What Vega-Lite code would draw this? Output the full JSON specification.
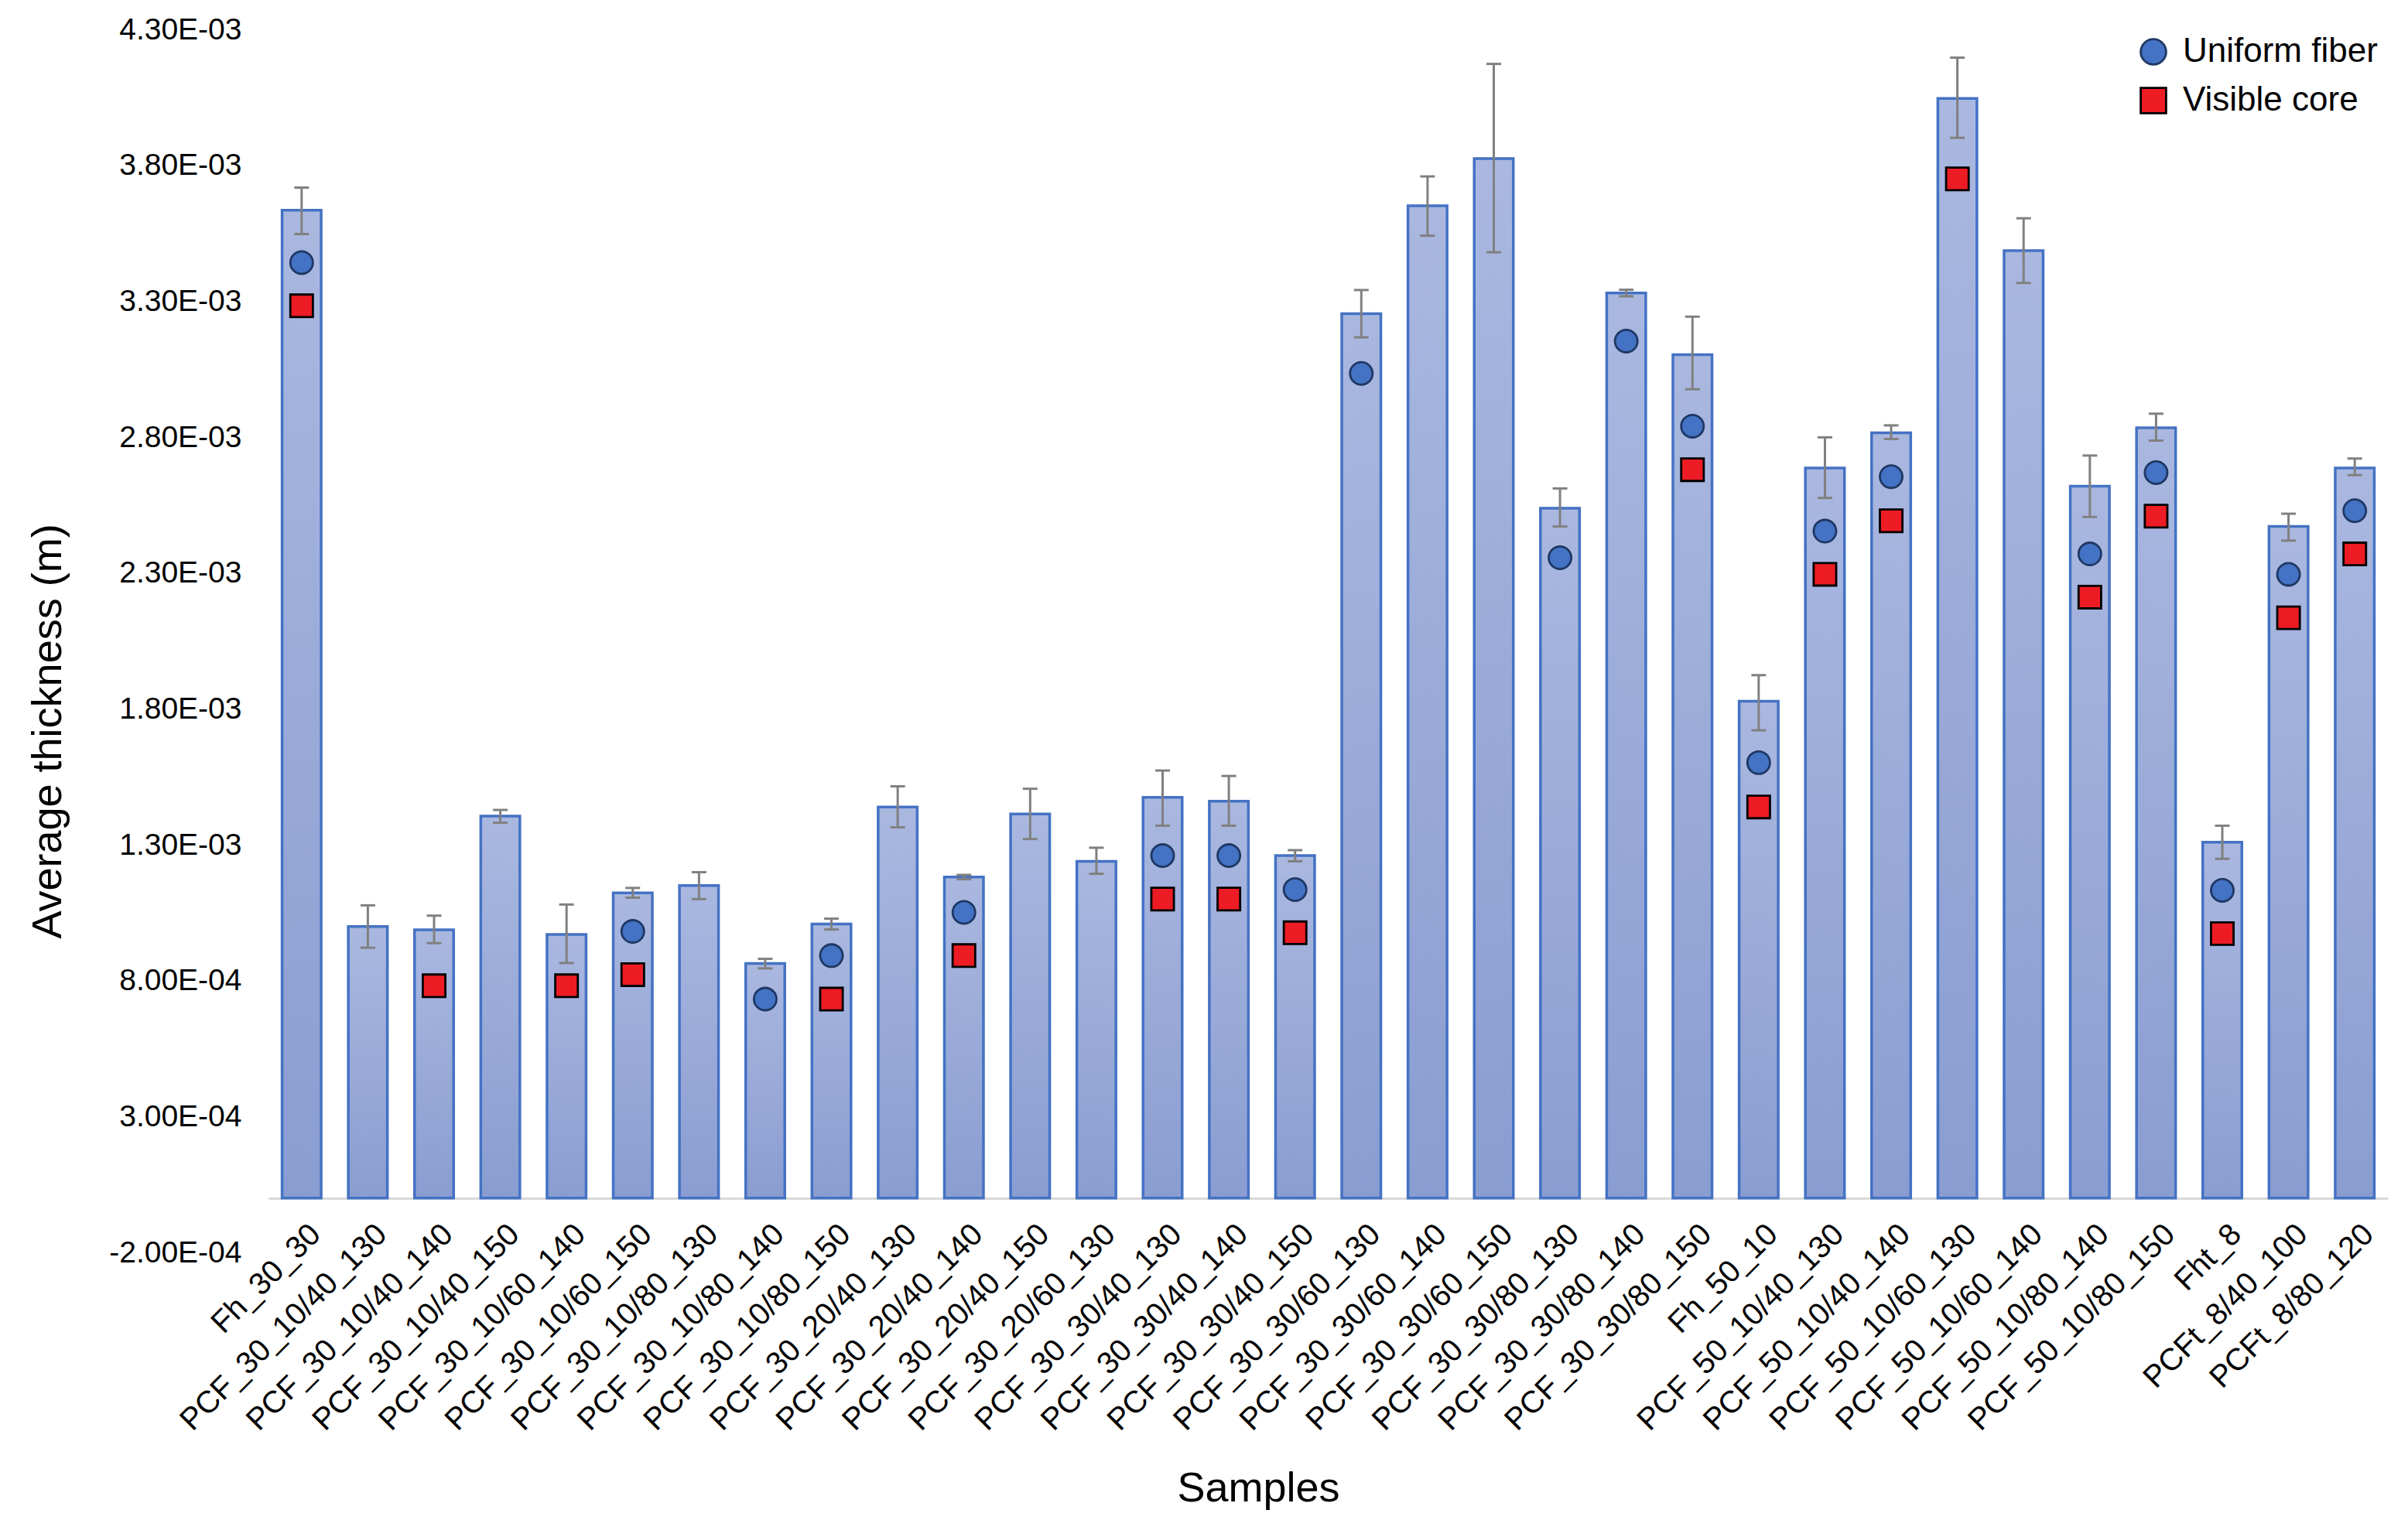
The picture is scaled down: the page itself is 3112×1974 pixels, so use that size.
{
  "$schema": "https://vega.github.io/schema/vega-lite/v6.json",
  "width": 2739,
  "height": 1581,
  "autosize": {"type": "none"},
  "padding": {"left": 347, "top": 38, "right": 26, "bottom": 355},
  "background": "white",
  "config": {"view": {"stroke": null}, "font": "Liberation Sans"},
  "datasets": {
    "bars": [
      {"sample": "Fh_30_30", "mean": 0.003635, "lo": 0.003547, "hi": 0.003718},
      {"sample": "PCF_30_10/40_130", "mean": 0.000999, "lo": 0.000921, "hi": 0.001077},
      {"sample": "PCF_30_10/40_140", "mean": 0.000987, "lo": 0.000938, "hi": 0.001039},
      {"sample": "PCF_30_10/40_150", "mean": 0.001405, "lo": 0.001381, "hi": 0.001428},
      {"sample": "PCF_30_10/60_140", "mean": 0.000970, "lo": 0.000865, "hi": 0.001080},
      {"sample": "PCF_30_10/60_150", "mean": 0.001123, "lo": 0.001105, "hi": 0.001141},
      {"sample": "PCF_30_10/80_130", "mean": 0.001150, "lo": 0.001100, "hi": 0.001199},
      {"sample": "PCF_30_10/80_140", "mean": 0.000863, "lo": 0.000845, "hi": 0.000880},
      {"sample": "PCF_30_10/80_150", "mean": 0.001008, "lo": 0.000988, "hi": 0.001028},
      {"sample": "PCF_30_20/40_130", "mean": 0.001439, "lo": 0.001364, "hi": 0.001515},
      {"sample": "PCF_30_20/40_140", "mean": 0.001181, "lo": 0.001173, "hi": 0.001189},
      {"sample": "PCF_30_20/40_150", "mean": 0.001413, "lo": 0.001321, "hi": 0.001506},
      {"sample": "PCF_30_20/60_130", "mean": 0.001239, "lo": 0.001193, "hi": 0.001289},
      {"sample": "PCF_30_30/40_130", "mean": 0.001474, "lo": 0.001370, "hi": 0.001573},
      {"sample": "PCF_30_30/40_140", "mean": 0.001460, "lo": 0.001370, "hi": 0.001553},
      {"sample": "PCF_30_30/40_150", "mean": 0.001260, "lo": 0.001239, "hi": 0.001280},
      {"sample": "PCF_30_30/60_130", "mean": 0.003254, "lo": 0.003167, "hi": 0.003341},
      {"sample": "PCF_30_30/60_140", "mean": 0.003651, "lo": 0.003541, "hi": 0.003759},
      {"sample": "PCF_30_30/60_150", "mean": 0.003825, "lo": 0.003480, "hi": 0.004173},
      {"sample": "PCF_30_30/80_130", "mean": 0.002538, "lo": 0.002471, "hi": 0.002611},
      {"sample": "PCF_30_30/80_140", "mean": 0.003330, "lo": 0.003318, "hi": 0.003342},
      {"sample": "PCF_30_30/80_150", "mean": 0.003103, "lo": 0.002976, "hi": 0.003243},
      {"sample": "Fh_50_10", "mean": 0.001828, "lo": 0.001721, "hi": 0.001924},
      {"sample": "PCF_50_10/40_130", "mean": 0.002686, "lo": 0.002576, "hi": 0.002799},
      {"sample": "PCF_50_10/40_140", "mean": 0.002816, "lo": 0.002793, "hi": 0.002843},
      {"sample": "PCF_50_10/60_130", "mean": 0.004046, "lo": 0.003901, "hi": 0.004196},
      {"sample": "PCF_50_10/60_140", "mean": 0.003486, "lo": 0.003367, "hi": 0.003605},
      {"sample": "PCF_50_10/80_140", "mean": 0.002619, "lo": 0.002506, "hi": 0.002732},
      {"sample": "PCF_50_10/80_150", "mean": 0.002834, "lo": 0.002787, "hi": 0.002886},
      {"sample": "Fht_8", "mean": 0.001309, "lo": 0.001248, "hi": 0.001370},
      {"sample": "PCFt_8/40_100", "mean": 0.002471, "lo": 0.002419, "hi": 0.002518},
      {"sample": "PCFt_8/80_120", "mean": 0.002686, "lo": 0.002660, "hi": 0.002721}
    ],
    "markers": [
      {"sample": "Fh_30_30", "series": "Uniform fiber", "value": 0.003442},
      {"sample": "PCF_30_10/60_150", "series": "Uniform fiber", "value": 0.000981},
      {"sample": "PCF_30_10/80_140", "series": "Uniform fiber", "value": 0.000732},
      {"sample": "PCF_30_10/80_150", "series": "Uniform fiber", "value": 0.000892},
      {"sample": "PCF_30_20/40_140", "series": "Uniform fiber", "value": 0.001051},
      {"sample": "PCF_30_30/40_130", "series": "Uniform fiber", "value": 0.001260},
      {"sample": "PCF_30_30/40_140", "series": "Uniform fiber", "value": 0.001260},
      {"sample": "PCF_30_30/40_150", "series": "Uniform fiber", "value": 0.001135},
      {"sample": "PCF_30_30/60_130", "series": "Uniform fiber", "value": 0.003034},
      {"sample": "PCF_30_30/80_130", "series": "Uniform fiber", "value": 0.002356},
      {"sample": "PCF_30_30/80_140", "series": "Uniform fiber", "value": 0.003153},
      {"sample": "PCF_30_30/80_150", "series": "Uniform fiber", "value": 0.002840},
      {"sample": "Fh_50_10", "series": "Uniform fiber", "value": 0.001602},
      {"sample": "PCF_50_10/40_130", "series": "Uniform fiber", "value": 0.002454},
      {"sample": "PCF_50_10/40_140", "series": "Uniform fiber", "value": 0.002654},
      {"sample": "PCF_50_10/80_140", "series": "Uniform fiber", "value": 0.002370},
      {"sample": "PCF_50_10/80_150", "series": "Uniform fiber", "value": 0.002669},
      {"sample": "Fht_8", "series": "Uniform fiber", "value": 0.001132},
      {"sample": "PCFt_8/40_100", "series": "Uniform fiber", "value": 0.002295},
      {"sample": "PCFt_8/80_120", "series": "Uniform fiber", "value": 0.002529},
      {"sample": "Fh_30_30", "series": "Visible core", "value": 0.003283},
      {"sample": "PCF_30_10/40_140", "series": "Visible core", "value": 0.000781},
      {"sample": "PCF_30_10/60_140", "series": "Visible core", "value": 0.000781},
      {"sample": "PCF_30_10/60_150", "series": "Visible core", "value": 0.000822},
      {"sample": "PCF_30_10/80_150", "series": "Visible core", "value": 0.000732},
      {"sample": "PCF_30_20/40_140", "series": "Visible core", "value": 0.000892},
      {"sample": "PCF_30_30/40_130", "series": "Visible core", "value": 0.001100},
      {"sample": "PCF_30_30/40_140", "series": "Visible core", "value": 0.001100},
      {"sample": "PCF_30_30/40_150", "series": "Visible core", "value": 0.000976},
      {"sample": "PCF_30_30/80_150", "series": "Visible core", "value": 0.002680},
      {"sample": "Fh_50_10", "series": "Visible core", "value": 0.001439},
      {"sample": "PCF_50_10/40_130", "series": "Visible core", "value": 0.002295},
      {"sample": "PCF_50_10/40_140", "series": "Visible core", "value": 0.002492},
      {"sample": "PCF_50_10/60_130", "series": "Visible core", "value": 0.003750},
      {"sample": "PCF_50_10/80_140", "series": "Visible core", "value": 0.002211},
      {"sample": "PCF_50_10/80_150", "series": "Visible core", "value": 0.002509},
      {"sample": "Fht_8", "series": "Visible core", "value": 0.000973},
      {"sample": "PCFt_8/40_100", "series": "Visible core", "value": 0.002135},
      {"sample": "PCFt_8/80_120", "series": "Visible core", "value": 0.002370}
    ]
  },
  "layer": [
    {
      "data": {"name": "bars"},
      "mark": {
        "type": "bar",
        "fill": {"gradient": "linear", "x1": 0, "y1": 0, "x2": 0, "y2": 1,
          "stops": [{"offset": 0, "color": "#AAB8E0"}, {"offset": 1, "color": "#8A9DD1"}]},
        "stroke": "#4472C4",
        "strokeWidth": 3.5
      },
      "encoding": {
        "x": {
          "field": "sample", "type": "nominal", "title": "Samples",
          "scale": {"domain": ["Fh_30_30", "PCF_30_10/40_130", "PCF_30_10/40_140", "PCF_30_10/40_150", "PCF_30_10/60_140", "PCF_30_10/60_150", "PCF_30_10/80_130", "PCF_30_10/80_140", "PCF_30_10/80_150", "PCF_30_20/40_130", "PCF_30_20/40_140", "PCF_30_20/40_150", "PCF_30_20/60_130", "PCF_30_30/40_130", "PCF_30_30/40_140", "PCF_30_30/40_150", "PCF_30_30/60_130", "PCF_30_30/60_140", "PCF_30_30/60_150", "PCF_30_30/80_130", "PCF_30_30/80_140", "PCF_30_30/80_150", "Fh_50_10", "PCF_50_10/40_130", "PCF_50_10/40_140", "PCF_50_10/60_130", "PCF_50_10/60_140", "PCF_50_10/80_140", "PCF_50_10/80_150", "Fht_8", "PCFt_8/40_100", "PCFt_8/80_120"], "paddingInner": 0.41, "paddingOuter": 0.205},
          "axis": {
            "offset": -70, "labelAngle": -45, "labelAlign": "right", "labelBaseline": "top",
            "labelPadding": 26, "labelOffset": 4, "labelFontSize": 40, "labelColor": "#000000", "labelLimit": 1000,
            "labelOverlap": false, "ticks": false, "domainColor": "#D9D9D9", "domainWidth": 3,
            "titleFontSize": 54, "titleFontWeight": "normal", "titleColor": "#000000",
            "titleX": 1279, "titleY": 391, "titleBaseline": "alphabetic", "titleAlign": "center"
          }
        },
        "y": {
          "field": "mean", "type": "quantitative", "title": "Average thickness (m)",
          "scale": {"domain": [-0.0002, 0.0043], "nice": false, "zero": false},
          "axis": {
            "values": [-0.0002, 0.0003, 0.0008, 0.0013, 0.0018, 0.0023, 0.0028, 0.0033, 0.0038, 0.0043],
            "labelExpr": "upper(replace(replace(format(datum.value, '.2e'), 'e-', 'e-0'), '\u2212', '-'))",
            "labelFontSize": 39, "labelColor": "#000000", "labelPadding": 35,
            "ticks": false, "domain": false, "grid": false,
            "titleFontSize": 54, "titleFontWeight": "normal", "titleColor": "#000000",
            "titleX": -269, "titleY": 907, "titleBaseline": "alphabetic", "titleAlign": "center", "titleAngle": -90
          }
        },
        "y2": {"datum": 0}
      }
    },
    {
      "data": {"name": "bars"},
      "mark": {"type": "rule", "color": "#808080", "strokeWidth": 3},
      "encoding": {
        "x": {"field": "sample", "type": "nominal"},
        "y": {"field": "lo", "type": "quantitative"},
        "y2": {"field": "hi"}
      }
    },
    {
      "data": {"name": "bars"},
      "mark": {"type": "tick", "color": "#808080", "size": 19, "thickness": 3, "opacity": 1},
      "encoding": {
        "x": {"field": "sample", "type": "nominal"},
        "y": {"field": "lo", "type": "quantitative"}
      }
    },
    {
      "data": {"name": "bars"},
      "mark": {"type": "tick", "color": "#808080", "size": 19, "thickness": 3, "opacity": 1},
      "encoding": {
        "x": {"field": "sample", "type": "nominal"},
        "y": {"field": "hi", "type": "quantitative"}
      }
    },
    {
      "data": {"name": "markers"},
      "mark": {"type": "point", "filled": true, "size": 850, "strokeWidth": 2.8, "opacity": 1},
      "encoding": {
        "x": {"field": "sample", "type": "nominal"},
        "y": {"field": "value", "type": "quantitative"},
        "shape": {"field": "series", "type": "nominal", "title": null,
          "scale": {"domain": ["Uniform fiber", "Visible core"], "range": ["circle", "square"]},
          "legend": {"orient": "none", "legendX": 2414, "legendY": 7, "padding": 0, "labelFontSize": 44, "labelColor": "#000000", "labelLimit": 1000, "symbolSize": 1075, "symbolStrokeWidth": 2.8, "rowPadding": 19, "labelOffset": 16}},
        "fill": {"field": "series", "type": "nominal", "title": null,
          "scale": {"domain": ["Uniform fiber", "Visible core"], "range": ["#4472C4", "#ED1C24"]},
          "legend": {"orient": "none", "legendX": 2414, "legendY": 7, "padding": 0, "labelFontSize": 44, "labelColor": "#000000", "labelLimit": 1000, "symbolSize": 1075, "symbolStrokeWidth": 2.8, "rowPadding": 19, "labelOffset": 16}},
        "stroke": {"field": "series", "type": "nominal", "title": null,
          "scale": {"domain": ["Uniform fiber", "Visible core"], "range": ["#1F3864", "#000000"]},
          "legend": {"orient": "none", "legendX": 2414, "legendY": 7, "padding": 0, "labelFontSize": 44, "labelColor": "#000000", "labelLimit": 1000, "symbolSize": 1075, "symbolStrokeWidth": 2.8, "rowPadding": 19, "labelOffset": 16}}
      }
    }
  ]
}
